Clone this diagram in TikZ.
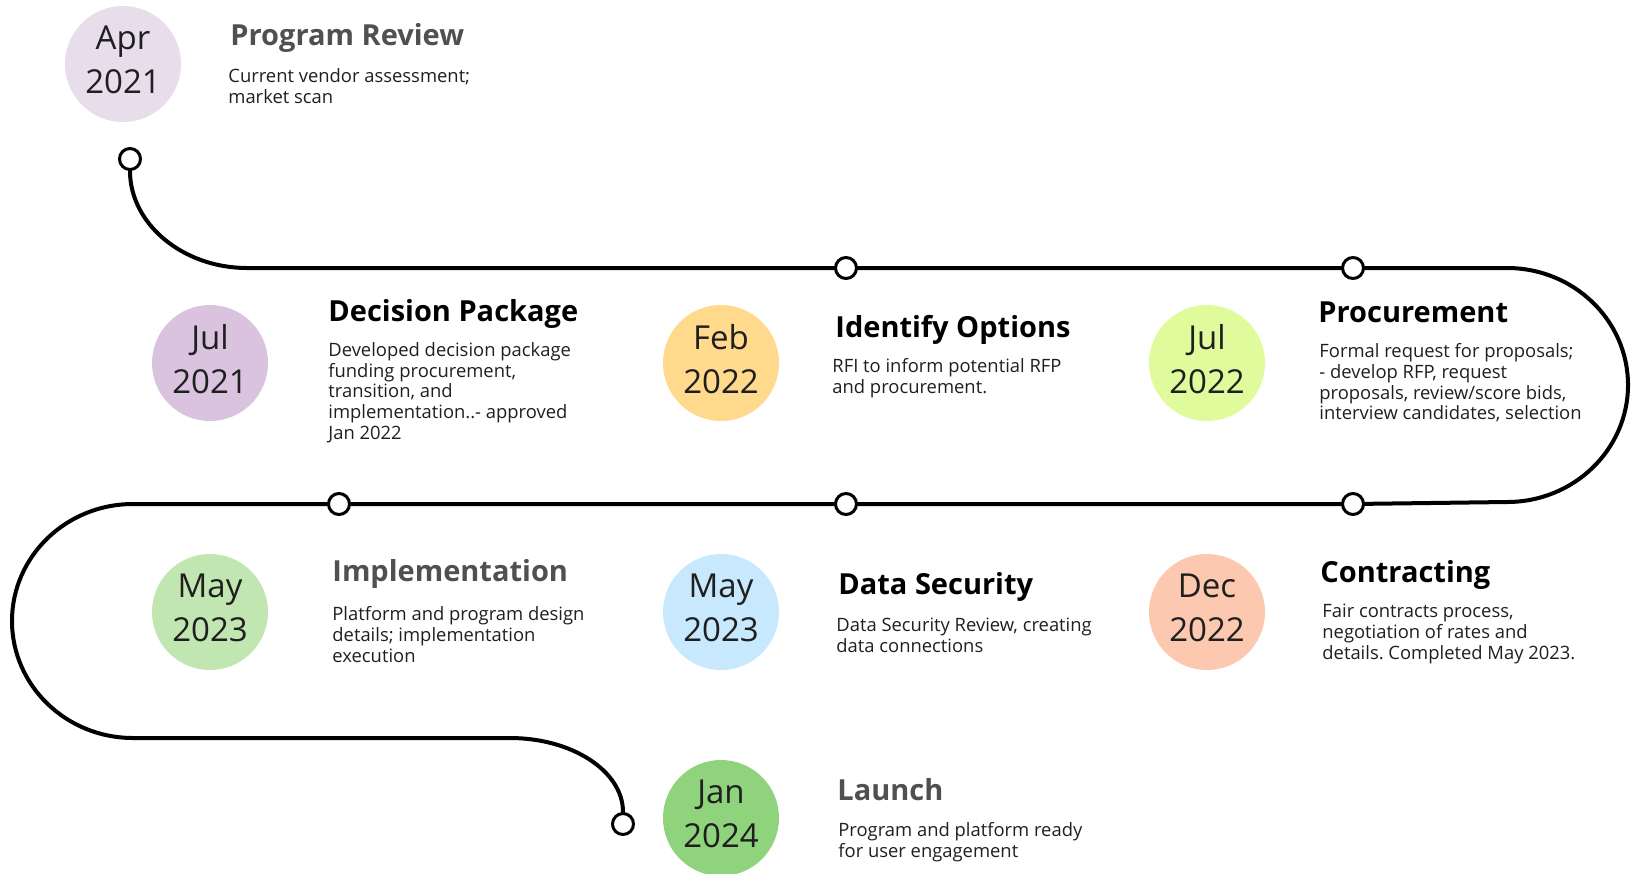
\documentclass[tikz,border=0pt]{standalone}
\usepackage{fontspec}
\setmainfont{Open Sans}
\IfFontExistsTF{Open Sans SemiBold}
  {\newfontfamily\headfont{Open Sans SemiBold}\newcommand\headsize{\fontsize{15}{18}\selectfont}}
  {\newcommand\headfont{\bfseries}\newcommand\headsize{\fontsize{14.5}{17}\selectfont}}
\usetikzlibrary{positioning,backgrounds}

\definecolor{aprpink}{HTML}{E8DDEB}
\definecolor{julpurple}{HTML}{D9C3DF}
\definecolor{febyellow}{HTML}{FFD98C}
\definecolor{jullime}{HTML}{E0FB9C}
\definecolor{maygreen}{HTML}{C2E6B1}
\definecolor{mayblue}{HTML}{C8E8FD}
\definecolor{decpeach}{HTML}{FCC8AF}
\definecolor{jangreen}{HTML}{8FD47C}
\definecolor{titlegrey}{HTML}{505050}
\definecolor{inkdark}{HTML}{1F1F1F}

\tikzset{
  datebox/.style={circle, minimum size=58pt, inner sep=0pt, align=center,
    font=\fontsize{16.5}{22}\selectfont, text=inkdark,
    execute at end node={\rule[-4.5pt]{0pt}{4.5pt}}},
  marker/.style={circle, draw=black, line width=1.5pt, fill=white,
    minimum size=10.5pt, inner sep=0pt},
  headline/.style={anchor=base west, inner sep=0pt, font=\headsize\headfont},
  detail/.style={anchor=north west, inner sep=0pt, align=left,
    font=\fontsize{9.2}{10.4}\selectfont, text=inkdark},
  timeline/.style={line width=2pt, line cap=round}
}

\begin{document}
\frenchspacing
\begin{tikzpicture}[x=0.5pt, y=-0.5pt]
\useasboundingbox (0,0) rectangle (1631,873);

% dates
\node[datebox, fill=aprpink]   (d1) at (123,64)  {Apr\\2021};
\node[datebox, fill=julpurple] (d2) at (210,363) {Jul\\2021};
\node[datebox, fill=febyellow] (d3) at (721,363) {Feb\\2022};
\node[datebox, fill=jullime]   (d4) at (1207,363) {Jul\\2022};
\node[datebox, fill=maygreen]  (d5) at (210,612) {May\\2023};
\node[datebox, fill=mayblue]   (d6) at (721,612) {May\\2023};
\node[datebox, fill=decpeach]  (d7) at (1207,612) {Dec\\2022};
\node[datebox, fill=jangreen]  (d8) at (721,818) {Jan\\2024};

% stops on the road
\node[marker] (m1) at (130,159) {};
\node[marker] (m2) at (846,268) {};
\node[marker] (m3) at (1353,268) {};
\node[marker] (m4) at (339,504) {};
\node[marker] (m5) at (846,504) {};
\node[marker] (m6) at (1353,504) {};
\node[marker] (m8) at (623,824) {};

% titles and details
\node[headline, text=titlegrey] (t1) at (230,45) {Program Review};
\node[detail] (b1) at (228,68) {Current vendor assessment;\\market scan};

\node[headline] (t2) at (328,321) {Decision Package};
\node[detail] (b2) at (328,342) {Developed decision package\\funding procurement,\\transition, and\\implementation..- approved\\Jan 2022};

\node[headline] (t3) at (835,337) {Identify Options};
\node[detail] (b3) at (832,358) {RFI to inform potential RFP\\and procurement.};

\node[headline] (t4) at (1318,322) {Procurement};
\node[detail] (b4) at (1319,343) {Formal request for proposals;\\- develop RFP, request\\proposals, review/score bids,\\interview candidates, selection};

\node[headline, text=titlegrey] (t5) at (332,581) {Implementation};
\node[detail] (b5) at (332,606) {Platform and program design\\details; implementation\\execution};

\node[headline] (t6) at (838,594) {Data Security};
\node[detail] (b6) at (836,618) {Data Security Review, creating\\data connections};

\node[headline] (t7) at (1320,582) {Contracting};
\node[detail] (b7) at (1322,604) {Fair contracts process,\\negotiation of rates and\\details. Completed May 2023.};

\node[headline, text=titlegrey] (t8) at (837,800) {Launch};
\node[detail] (b8) at (838,822) {Program and platform ready\\for user engagement};

% the road
\begin{scope}[on background layer]
\draw[timeline] (m1.south) .. controls (130,224) and (183,268) .. (247,268)
  -- (m2) -- (m3) -- (1507,268)
  arc[start angle=90, end angle=-90, x radius=60.5pt, y radius=58.5pt]
  -- (m6) -- (m5) -- (m4) -- (133,504)
  arc[start angle=90, end angle=270, x radius=60.5pt, y radius=58.5pt]
  -- (510,738) .. controls (572,738) and (623,771) .. (m8.north);
\end{scope}
\end{tikzpicture}
\end{document}
